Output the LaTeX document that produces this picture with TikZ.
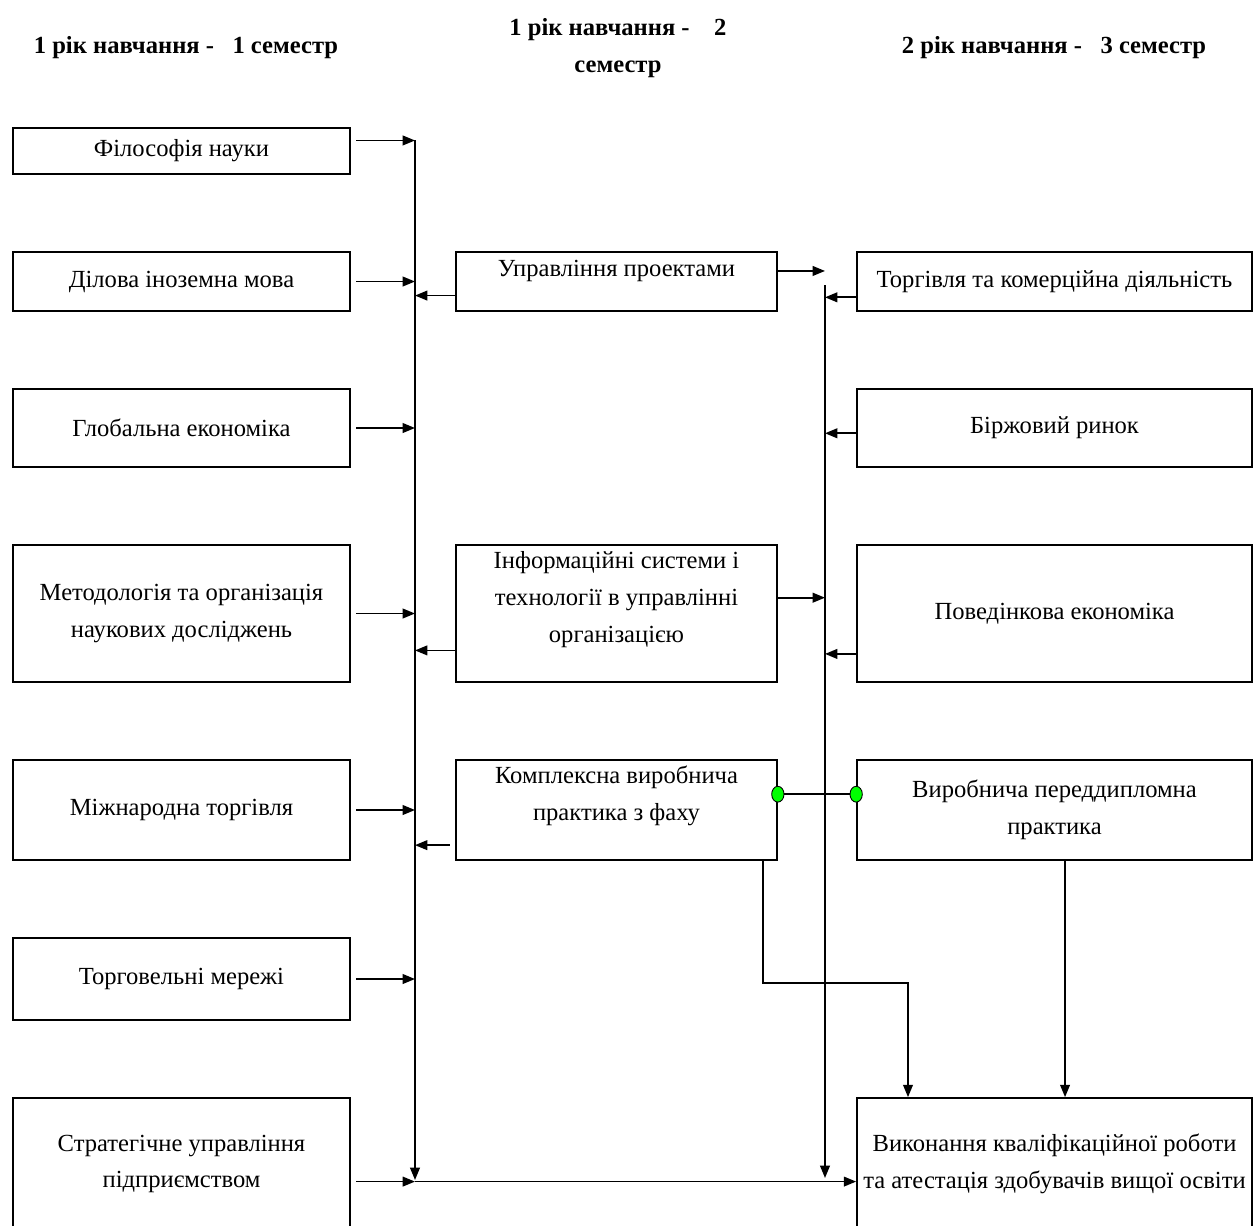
\documentclass[tikz,border=0pt]{standalone}
\usepackage{fontspec}
\setmainfont{Liberation Serif}
\usetikzlibrary{arrows.meta,positioning,shapes.geometric}

\tikzset{
  blok/.style={draw, line width=1pt, inner sep=2pt, align=center},
  kol1/.style={blok, minimum width=6.74cm},
  kol2/.style={blok, minimum width=6.42cm},
  kol3/.style={blok, minimum width=7.9cm},
  strilka/.style={line width=1pt, -{Triangle[length=7pt,width=5.5pt]}},
  lin/.style={line width=1pt},
  tochka/.style={ellipse, draw, line width=.5pt, fill=green, minimum width=7pt, minimum height=9pt, inner sep=0pt},
  zag/.style={font=\fontsize{14}{21}\selectfont\bfseries, align=center}
}

\begin{document}
\begin{tikzpicture}[x=0.02cm, y=-0.02cm, font=\fontsize{14}{21}\selectfont]
    \useasboundingbox (0,0) rectangle (1258,1225);
    % headers
    \node[zag] (z1) at (186,48) {1 рік навчання -\ \ \ 1 семестр};
    \node[zag] (z2) at (618,48) {1 рік навчання -\ \ \ \ 2\\семестр};
    \node[zag] (z3) at (1054,48) {2 рік навчання -\ \ \ 3 семестр};

    % 1 semestr
    \node[kol1, minimum height=0.92cm] (fil) at (181.5,151) {Філософія науки};
    \node[kol1, minimum height=1.18cm] (dil) at (181.5,281.5) {Ділова іноземна мова};
    \node[kol1, minimum height=1.56cm] (glob) at (181.5,428) {Глобальна економіка};
    \node[kol1, minimum height=2.74cm] (metod) at (181.5,613.5) {Методологія та організація\\наукових досліджень};
    \node[kol1, minimum height=2cm] (mizh) at (181.5,810) {Міжнародна торгівля};
    \node[kol1, minimum height=1.64cm] (merezh) at (181.5,979) {Торговельні мережі};
    \node[kol1, minimum height=2.64cm] (strat) at (181.5,1164) {Стратегічне управління\\підприємством};

    % 2 semestr
    \node[kol2, minimum height=1.18cm, label={[yshift=6pt]center:Управління проектами}] (upr) at (616.5,281.5) {};
    \node[kol2, minimum height=2.74cm, label={[yshift=8pt, align=center]center:Інформаційні системи і\\технології в управлінні\\організацією}] (inf) at (616.5,613.5) {};
    \node[kol2, minimum height=2cm, label={[yshift=8pt, align=center]center:Комплексна виробнича\\практика з фаху}] (kompl) at (616.5,810) {};

    % 3 semestr
    \node[kol3, minimum height=1.18cm] (torg) at (1054.5,281.5) {Торгівля та комерційна діяльність};
    \node[kol3, minimum height=1.56cm] (birzh) at (1054.5,428) {Біржовий ринок};
    \node[kol3, minimum height=2.74cm] (poved) at (1054.5,613.5) {Поведінкова економіка};
    \node[kol3, minimum height=2cm] (vyrob) at (1054.5,810) {Виробнича переддипломна\\практика};
    \node[kol3, minimum height=2.64cm] (vyk) at (1054.5,1164) {Виконання кваліфікаційної роботи\\та атестація здобувачів вищої освіти};

    % buses
    \coordinate (busL) at (415,140);
    \coordinate (busR) at (825,285);
    \draw[strilka] (busL) -- (415,1180);
    \draw[strilka] (busR) -- (825,1178);

    % into left bus
    \draw[strilka, shorten <=3pt] ([yshift=6pt]fil.east) -- ([yshift=6pt]fil.east -| busL);
    \foreach \n in {dil, glob, metod, mizh, merezh}
        \draw[strilka, shorten <=3pt] (\n.east) -- (\n.east -| busL);
    \draw[strilka, shorten <=3pt] ([yshift=-10pt]strat.east) -- ([yshift=-10pt]strat.east -| busL);
    \draw[strilka] ([yshift=-10pt]strat.east -| busL) -- ([yshift=-10pt]strat.east -| vyk.west);
    \draw[strilka] ([yshift=-8pt]upr.west) -- ([yshift=-8pt]upr.west -| busL);
    \draw[strilka] ([yshift=-21pt]inf.west) -- ([yshift=-21pt]inf.west -| busL);
    \draw[strilka, shorten <=3pt] ([yshift=-20pt]kompl.west) -- ([yshift=-20pt]kompl.west -| busL);

    % into right bus
    \draw[strilka] ([yshift=6pt]upr.east) -- ([yshift=6pt]upr.east -| busR);
    \draw[strilka] ([yshift=9pt]inf.east) -- ([yshift=9pt]inf.east -| busR);
    \draw[strilka] ([yshift=-9pt]torg.west) -- ([yshift=-9pt]torg.west -| busR);
    \draw[strilka] ([yshift=-3pt]birzh.west) -- ([yshift=-3pt]birzh.west -| busR);
    \draw[strilka] ([yshift=-23pt]poved.west) -- ([yshift=-23pt]poved.west -| busR);

    % practice link
    \node[tochka] (t1) at ([yshift=9pt]kompl.east) {};
    \node[tochka] (t2) at ([yshift=9pt]vyrob.west) {};
    \draw[lin] (t1) -- (t2);

    % to final box
    \coordinate (zlam) at (908,983);
    \draw[strilka] ([xshift=-8.5pt]kompl.south east) |- (zlam) -- (zlam |- vyk.north);
    \draw[strilka] ([xshift=6pt]vyrob.south) -- ([xshift=6pt]vyrob.south |- vyk.north);
\end{tikzpicture}
\end{document}
